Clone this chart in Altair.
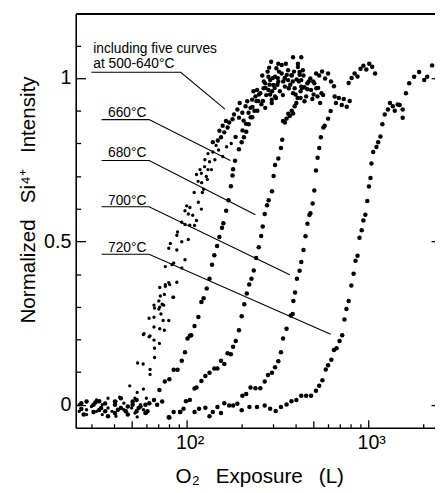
import altair as alt
import pandas as pd

FONT = "Liberation Sans"

# ---- five overlapping curves, 500-640 C (small dots) ----
a_x = [25.6, 25.6, 28.1, 28.1, 28.1, 29.9, 31.9, 31.9, 34.3, 34.3, 36.9, 36.9, 38.8, 40.8, 40.8,
       42.8, 45.1, 45.1, 48.6, 49.8, 51.9, 51.9, 53.4, 53.4, 55.7, 57.8, 57.8, 60.0, 60.0,
       53.7, 57.6, 57.8, 58.3, 62.1, 62.1, 62.9, 62.9, 62.9, 66.1, 66.1, 66.1, 66.1, 66.6, 66.6, 66.6,
       70.3, 70.3, 70.8, 71.1, 71.1, 71.1, 71.6, 72.2, 73.3, 74.2, 74.8, 75.4, 75.4, 76.3, 76.3, 76.3,
       79.7, 79.7, 79.7, 80.7, 81.3, 83.0, 84.0, 84.8, 84.8, 88.3, 88.3, 88.3, 89.1, 94.0, 94.0, 94.0,
       97.9, 97.9, 97.9, 100, 102.1, 102.1, 104.2, 110.5, 113.3, 120.5,
       113.3, 118.5, 124, 121, 110, 126, 131,
       115.7, 120.5, 128.3, 125.5, 133.7, 131.1, 139.4, 145.3, 139.4, 148.4, 154.6, 151.5, 161.1, 157.9,
       168.1, 171.5, 164.6, 178.8, 182.4, 190.4, 194.3, 202.6, 211.1, 215.6, 224.7, 229.5, 239.1, 244.2,
       254.5, 265.1, 270.8, 282.1, 288.2, 300.2, 306.7, 319.5, 333.4, 347.4, 361.9, 377.6, 385.1, 409.8,
       418.7, 427.6, 270.8, 294.3, 306.7,
       282.1, 294.3, 319.5, 347.4, 361.9, 385.1, 409.8, 427.6, 436.2, 455.1, 484.3, 504.6, 525.7, 552.6,
       445.6, 401.8,
       233.2, 248.2, 261, 274.2, 284.6, 295.5, 310.5, 322.3, 338.8, 351.7, 365.1, 379, 393.4, 403.3,
       423.9, 440, 462.6, 492.2, 517.4, 543.7, 564.4, 205.9, 219.1, 230.4, 195.9, 427.6,
       236, 242, 250, 258, 266, 272, 279, 286, 292, 298, 305, 312, 318, 326, 334, 340, 356, 372, 390,
       398, 415, 432, 470, 500, 530, 225, 212, 203, 186, 176, 166, 158, 150, 143, 137, 130, 122, 116,
       108, 104]
a_y = [0.0, -0.02, 0.01, -0.015, -0.03, -0.005, 0.015, -0.02, 0.0, -0.03, 0.02, -0.01, -0.02, 0.01, -0.035,
       0.023, -0.015, 0.005, 0.058, -0.01, 0.02, -0.025, 0.038, -0.037, 0.0, 0.048, -0.015, -0.025, 0.02,
       0.128, 0.125, 0.215, 0.218, 0.265, 0.208, 0.108, 0.093, 0.211, 0.305, 0.268, 0.238, 0.198, 0.296, 0.173, 0.145,
       0.318, 0.293, 0.188, 0.359, 0.299, 0.233, 0.333, 0.278, 0.308, 0.258, 0.305, 0.338, 0.228, 0.423, 0.368, 0.363,
       0.479, 0.374, 0.258, 0.368, 0.494, 0.429, 0.329, 0.434, 0.329, 0.519, 0.474, 0.375, 0.529, 0.559, 0.499, 0.419,
       0.594, 0.552, 0.444, 0.609, 0.584, 0.506, 0.604, 0.549, 0.564, 0.599,
       0.705, 0.72, 0.66, 0.68, 0.65, 0.75, 0.72,
       0.684, 0.709, 0.699, 0.729, 0.744, 0.769, 0.774, 0.794, 0.804, 0.809, 0.819, 0.839, 0.834, 0.854,
       0.849, 0.864, 0.869, 0.874, 0.889, 0.904, 0.879, 0.894, 0.914, 0.929, 0.909, 0.934, 0.944, 0.964,
       0.954, 0.969, 0.984, 0.964, 0.994, 0.979, 1.004, 0.989, 1.014, 0.999, 1.024, 1.009, 1.064, 1.044,
       1.019, 0.994, 0.909, 0.924, 0.944,
       1.004, 0.934, 1.044, 0.974, 0.994, 0.954, 1.034, 0.974, 1.024, 0.944, 0.964, 0.984, 0.944, 0.954,
       0.929, 0.924,
       0.96, 0.93, 1.008, 0.948, 1.032, 0.96, 0.939, 1.02, 0.948, 1.044, 0.969, 1.008, 0.969, 0.996,
       0.939, 1.008, 0.966, 0.936, 0.969, 0.924, 0.948, 0.87, 0.894, 0.912, 0.924, 1.064,
       0.90, 0.93, 0.95, 0.92, 0.99, 0.97, 1.02, 0.98, 1.05, 1.0, 0.97, 1.03, 1.0, 0.96, 1.04, 0.99, 1.01,
       0.98, 1.02, 0.95, 0.99, 0.97, 0.99, 0.95, 0.97, 0.88, 0.86, 0.84, 0.82, 0.80, 0.79, 0.76, 0.78,
       0.75, 0.72, 0.69, 0.65, 0.62, 0.58, 0.55]

# ---- 660 C ----
c660_x = [26.3, 26.3, 30.7, 30.7, 33.0, 33.0, 35.6, 35.6, 40.3, 40.3, 43.4, 43.4, 47.4, 47.4, 53.0, 53.0,
          59.3, 59.3, 66.1, 70.8, 75.8, 80.3, 84.8, 89.1, 94.0, 97.9, 101.1, 104.2, 105.9, 110.5, 116.0,
          120.5, 124.0, 129.0, 133.6, 138.0, 142.0, 147.1, 151.4, 156.5, 159.2, 165.1, 170.0, 175.1, 178.9,
          180.2, 184.7, 194.0, 200.9, 206.7, 212.8, 219.7, 230, 245, 263, 288, 316, 347, 384, 419]
c660_y = [-0.013, 0.005, 0.0, -0.022, 0.011, -0.016, -0.02, 0.004, 0.01, -0.025, 0.02, -0.01, -0.005, -0.03,
          0.015, -0.02, 0.0, -0.025, 0.015, 0.045, 0.071, 0.078, 0.107, 0.107, 0.135, 0.161, 0.203, 0.211,
          0.213, 0.241, 0.269, 0.315, 0.326, 0.356, 0.386, 0.429, 0.458, 0.486, 0.514, 0.542, 0.556, 0.594,
          0.626, 0.669, 0.702, 0.721, 0.747, 0.782, 0.804, 0.819, 0.836, 0.859, 0.88, 0.9, 0.93, 0.95, 0.98,
          1.0, 0.99, 1.01]

# ---- 680 C ----
c680_x = [27.1, 31.5, 36.9, 40.3, 46.2, 50.4, 54.4, 60.8, 68.8, 79.7, 84.8, 92.1, 99.1, 104.1,
          110.5, 113.3, 120.5, 126.8, 133.6, 142.0, 147.7, 154.6, 161.2, 167.9, 175.1, 180.2, 186.4, 194.0,
          200.9, 207.6, 214.4, 221.0, 227.4, 234.1, 241.2, 249.5, 257.1, 262.3, 269.0, 277.1, 282.8, 295.0,
          301.2, 306.7, 319.7, 330.6, 336.0, 339.4, 347.4, 354.8, 362.8, 369.7, 379.1, 385.3, 393.4, 408.5,
          424, 445.6, 462.5, 480, 498, 516.7, 537, 557, 578.7, 600.7, 623.6, 647.3]
c680_y = [-0.03, 0.008, -0.035, 0.0, -0.02, 0.0, -0.01, -0.02, 0.0, -0.038, -0.022, -0.022, 0.011, 0.015,
          0.05, 0.053, 0.073, 0.088, 0.098, 0.111, 0.111, 0.135, 0.125, 0.158, 0.155, 0.178, 0.195, 0.228,
          0.271, 0.308, 0.341, 0.368, 0.386, 0.411, 0.449, 0.482, 0.517, 0.546, 0.584, 0.611, 0.626, 0.654,
          0.700, 0.734, 0.754, 0.786, 0.811, 0.869, 0.864, 0.876, 0.891, 0.884, 0.9, 0.892, 0.914, 0.939,
          0.96, 0.972, 0.984, 0.999, 0.99, 1.014, 1.008, 1.02, 0.999, 1.014, 0.99, 0.975]

# ---- 700 C ----
c700_x = [28.1, 33.8, 41.8, 50.4, 55.7, 62.3, 73.3, 80.3, 92.1, 110.5, 126.8, 139.3, 154.6, 171.4, 190.2,
          202.7, 212.8, 224.7, 239.1, 254.5, 269.0, 280.5, 295.0, 306.7, 319.7, 330.6, 339.4, 354.8, 374.4,
          383.5, 387.0, 395.2, 404.8, 418.7, 427.6, 440.1, 451.2, 462.6, 474.2, 480.1, 494.2, 504.6, 515.3,
          526.1, 537.0, 548.1, 565.9, 575.5, 600.7, 620.4, 653.0, 663.8, 688.8, 714.6, 733.1, 761, 790,
          780, 810, 840.7, 872.7, 906, 940.3, 976, 1012.5, 1051, 1091]
c700_y = [0.01, -0.01, -0.015, 0.01, -0.005, 0.005, 0.01, -0.039, -0.022, -0.022, -0.009, -0.022, -0.025,
          -0.002, 0.003, 0.028, 0.033, 0.053, 0.051, 0.051, 0.071, 0.091, 0.098, 0.115, 0.133, 0.161, 0.203,
          0.233, 0.273, 0.278, 0.318, 0.344, 0.386, 0.41, 0.437, 0.474, 0.516, 0.554, 0.581, 0.586, 0.616,
          0.656, 0.717, 0.756, 0.786, 0.819, 0.849, 0.854, 0.876, 0.899, 0.944, 0.924, 0.939, 0.918, 0.936,
          0.912, 0.93, 0.985, 1.0, 1.014, 1.005, 1.029, 1.038, 1.026, 1.044, 1.035, 1.014]

# ---- 720 C ----
c720_x = [96.1, 117.0, 133.6, 147.7, 161.2, 180.2, 200.9, 221.7, 243.9, 269.0, 288.2, 309.3, 330.6, 354.8,
          377.6, 401.8, 427.6, 455.0, 484.2, 515.3, 537.0, 559.2, 583.3, 600.7, 626.1, 647.3, 669.2, 695.2,
          718.6, 739.5, 758.1, 780.2, 806.8, 830.3, 851.2, 872.6, 894.6, 920.4, 940.3, 964, 988, 1008.7,
          1029, 1041.8, 1065, 1109, 1133, 1167, 1196, 1232, 1283, 1316, 1366, 1400, 1453, 1490, 1547, 1547,
          1613, 1681, 1790, 1907, 2033, 2111, 2247]
c720_y = [-0.012, -0.012, -0.035, -0.007, 0.005, -0.002, -0.017, -0.007, -0.007, -0.002, -0.012, -0.019,
          -0.007, 0.001, 0.011, 0.015, 0.028, 0.028, 0.028, 0.043, 0.058, 0.075, 0.108, 0.121, 0.138, 0.168,
          0.173, 0.195, 0.213, 0.261, 0.293, 0.318, 0.365, 0.401, 0.441, 0.456, 0.511, 0.534, 0.564, 0.582,
          0.624, 0.668, 0.694, 0.739, 0.774, 0.789, 0.804, 0.821, 0.859, 0.889, 0.904, 0.924, 0.914, 0.9,
          0.919, 0.918, 0.904, 0.879, 0.954, 0.984, 1.004, 1.019, 0.994, 1.004, 1.039]

# ---- annotation leader lines ----
line_id = ["a", "a", "a", "b", "b", "b", "c", "c", "c", "d", "d", "d", "e", "e", "e"]
line_ord = [0, 1, 2, 0, 1, 2, 0, 1, 2, 0, 1, 2, 0, 1, 2]
line_x = [29.9, 92.8, 162.5, 34.0, 62.1, 174.0, 34.0, 62.1, 239.1, 34.0, 62.1, 369.7, 34.0, 62.1, 620.9]
line_y = [1.018, 1.018, 0.905, 0.873, 0.873, 0.748, 0.748, 0.748, 0.582, 0.606, 0.606, 0.398,
          0.461, 0.461, 0.216]

# ---- annotation labels ----
label_text = ["including five curves", "at 500-640°C", "660°C", "680°C", "700°C", "720°C"]
label_x = [30.6, 30.6, 36.9, 36.9, 36.9, 36.9]
label_y = [1.077, 1.030, 0.880, 0.759, 0.612, 0.467]

x_major_ticks = [100, 1000]
x_mid_ticks = [50, 500]
x_minor_ticks = [30, 40, 60, 70, 80, 90, 200, 300, 400, 600, 700, 800, 900, 2000]
y_major_ticks = [0, 0.5, 1]
y_minor_ticks = [0.1, 0.2, 0.3, 0.4, 0.6, 0.7, 0.8, 0.9, 1.1]

xs = alt.Scale(type="log", domain=[24.5, 2331], nice=False)
ys = alt.Scale(domain=[-0.070, 1.198], nice=False, zero=False)


def ax(**kw):
    base = dict(grid=False, domain=False, labels=False, ticks=True, title=None,
                tickColor="black", tickWidth=1.3)
    base.update(kw)
    return alt.Axis(**base)


x_major = ax(orient="bottom", values=x_major_ticks, tickSize=8, offset=-8, labels=True,
             labelExpr="datum.value < 500 ? '10²' : '10³'", labelFontSize=20, labelFont=FONT,
             labelColor="black", labelPadding=5, labelOffset=3, labelFlush=False,
             labelOverlap=False, labelBaseline="top")
x_mid = ax(orient="bottom", values=x_mid_ticks, tickSize=7, offset=-7)
x_minor = ax(orient="bottom", values=x_minor_ticks, tickSize=4, offset=-4)
x_dom = ax(orient="bottom", domain=True, domainColor="black", domainWidth=1.6, ticks=False,
           title="O₂ \u2002Exposure \u2002(L)", titleFont=FONT, titleFontSize=21,
           titleFontWeight="normal", titleColor="black", titleX=187, titleY=56,
           titleBaseline="alphabetic", titleAlign="center")
x_top = ax(orient="top", domain=True, domainColor="black", domainWidth=2, ticks=False)

y_major = ax(orient="left", values=y_major_ticks, tickSize=10, offset=-10, labels=True,
             labelExpr="datum.value == 0 ? '0' : (datum.value == 1 ? '1' : '0.5')",
             labelFontSize=20, labelFont=FONT, labelColor="black", labelPadding=5,
             labelFlush=False, labelOverlap=False)
y_minor = ax(orient="left", values=y_minor_ticks, tickSize=5, offset=-5)
y_dom = ax(orient="left", domain=True, domainColor="black", domainWidth=1.6, ticks=False,
           title="Normalized \u2002Si⁴⁺ \u2002Intensity", titleFont=FONT, titleFontSize=21,
           titleFontWeight="normal", titleColor="black", titleAngle=270, titleX=-42,
           titleY=189.5, titleBaseline="alphabetic", titleAlign="center")
y_right = ax(orient="right", values=y_major_ticks, tickSize=4, offset=-4)


def pts(xv, yv, size, xaxis, yaxis, upper_size=None):
    df = pd.DataFrame({"x": xv, "y": yv})
    enc = dict(
        x=alt.X("x:Q", scale=xs, axis=xaxis),
        y=alt.Y("y:Q", scale=ys, axis=yaxis),
    )
    if upper_size is not None:
        enc["size"] = alt.condition("datum.y > 0.8", alt.value(upper_size), alt.value(size))
        return alt.Chart(df).mark_circle(color="black", opacity=1).encode(**enc)
    return alt.Chart(df).mark_circle(size=size, color="black", opacity=1).encode(**enc)


layer_a = pts(a_x, a_y, 12, x_major, y_major, upper_size=20)
layer_660 = pts(c660_x, c660_y, 21, x_mid, y_minor)
layer_680 = pts(c680_x, c680_y, 21, x_minor, y_dom)
layer_700 = pts(c700_x, c700_y, 21, x_dom, y_right)
layer_720 = pts(c720_x, c720_y, 21, x_top, None)

lines_df = pd.DataFrame({"id": line_id, "o": line_ord, "x": line_x, "y": line_y})
lines = alt.Chart(lines_df).mark_line(color="black", strokeWidth=1.1).encode(
    x=alt.X("x:Q", scale=xs, axis=None),
    y=alt.Y("y:Q", scale=ys, axis=None),
    detail="id:N",
    order="o:Q",
)

labels_df = pd.DataFrame({"t": label_text, "x": label_x, "y": label_y})
labels = alt.Chart(labels_df).mark_text(
    align="left", baseline="alphabetic", font=FONT, fontSize=14, color="black"
).encode(
    x=alt.X("x:Q", scale=xs, axis=None),
    y=alt.Y("y:Q", scale=ys, axis=None),
    text="t:N",
)

chart = (
    alt.layer(layer_a, layer_660, layer_680, layer_700, layer_720, lines, labels)
    .resolve_axis(x="independent", y="independent")
    .properties(
        width=366,
        height=422,
        autosize=alt.AutoSizeParams(type="none"),
        padding={"left": 69, "top": 1, "right": 0, "bottom": 61},
        background="white",
    )
    .configure_view(stroke=None)
    .configure_axis(grid=False)
)

chart.save("out.html", embed_options={"renderer": "svg", "actions": False})
